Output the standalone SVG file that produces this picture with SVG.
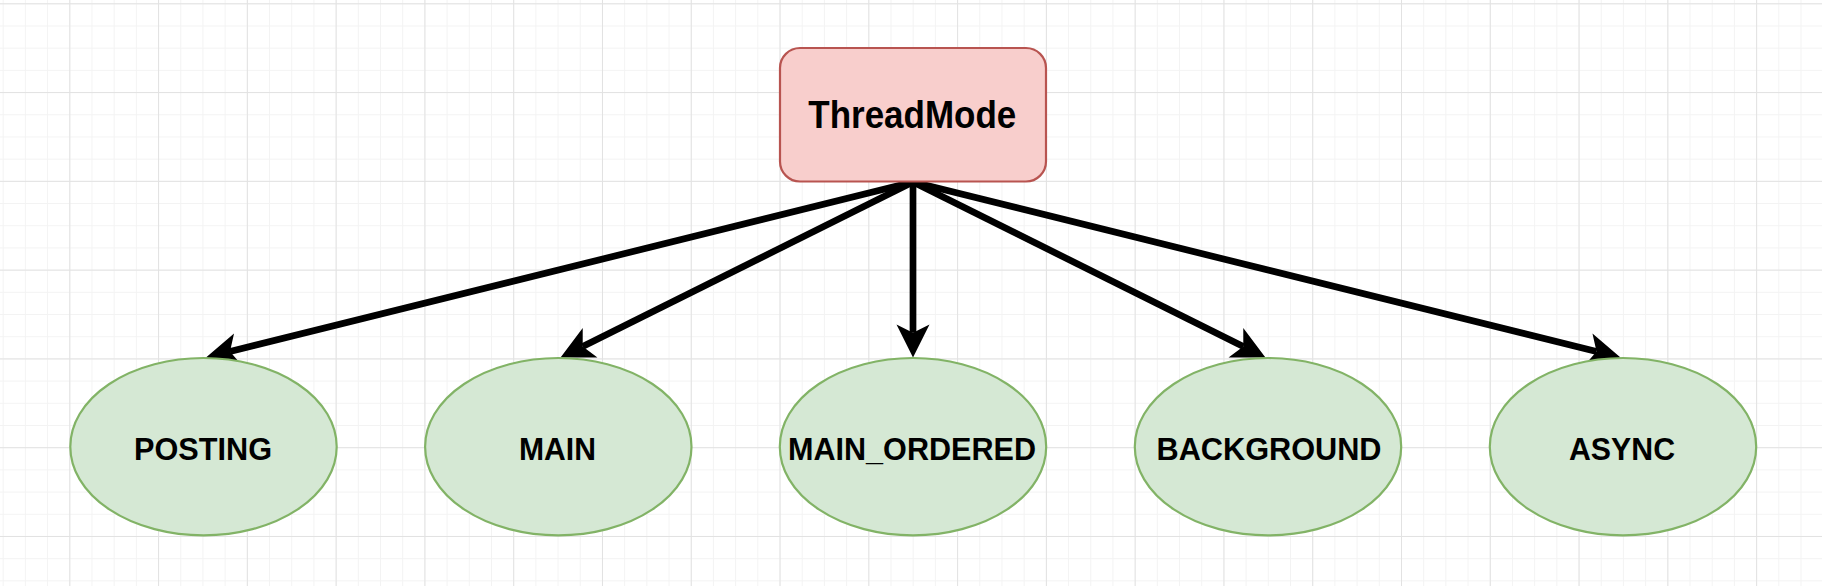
<svg xmlns="http://www.w3.org/2000/svg" width="1822" height="586" viewBox="0 0 1822 586">
  <style>
    .rectnode { fill: #f8cecc; stroke: #b85450; stroke-width: 2.2; }
    .ellnode { fill: #d5e8d4; stroke: #82b366; stroke-width: 2.2; }
    .lbl { font-family: "Liberation Sans", Arial, Helvetica, sans-serif; font-weight: bold; fill: #000000; text-anchor: middle; }
    .lbl-big { font-size: 38px; }
    .lbl-sm { font-size: 32px; }
    .edge { fill: none; stroke: #000000; stroke-width: 6.7; marker-end: url(#arrow); }
  </style>
  <defs>
    <pattern id="minorGrid" patternUnits="userSpaceOnUse" x="2.7" y="3.3" width="22.195" height="22.195">
      <path d="M0.5,0 V22.195 M0,0.5 H22.195" fill="none" stroke="#f3f3f3" stroke-width="1"/>
    </pattern>
    <pattern id="majorGrid" patternUnits="userSpaceOnUse" x="69.3" y="3.3" width="88.78" height="88.78">
      <path d="M0.5,0 V88.78 M0,0.5 H88.78" fill="none" stroke="#e2e2e2" stroke-width="1"/>
    </pattern>
    <marker id="arrow" markerUnits="userSpaceOnUse" orient="auto" viewBox="-10 -18 36 36" refX="0" refY="0" markerWidth="36" markerHeight="36" overflow="visible">
      <path d="M24.75,0 L-8.25,-16.5 L0,0 L-8.25,16.5 Z" fill="#000000"/>
    </marker>
  </defs>

  <rect x="0" y="0" width="1822" height="586" fill="#ffffff"/>
  <rect x="0" y="0" width="1822" height="586" fill="url(#minorGrid)"/>
  <rect x="0" y="0" width="1822" height="586" fill="url(#majorGrid)"/>

  <g id="connectors">
    <path class="edge" d="M913,182 L230.0,351.5"/>
    <path class="edge" d="M913,182 L582.7,346.5"/>
    <path class="edge" d="M913,182 L913,332.75"/>
    <path class="edge" d="M913,182 L1243.3,346.5"/>
    <path class="edge" d="M913,182 L1596.5,351.5"/>
  </g>

  <g id="node-threadmode">
    <rect class="rectnode" x="780" y="48" width="266" height="133.5" rx="20" ry="20"/>
    <text class="lbl lbl-big" x="912.3" y="127.7" textLength="208" lengthAdjust="spacingAndGlyphs">ThreadMode</text>
  </g>

  <g id="node-posting">
    <ellipse class="ellnode" cx="203.5" cy="446.7" rx="133.2" ry="88.7"/>
    <text class="lbl lbl-sm" x="203" y="460" textLength="138" lengthAdjust="spacingAndGlyphs">POSTING</text>
  </g>

  <g id="node-main">
    <ellipse class="ellnode" cx="558.3" cy="446.7" rx="133.2" ry="88.7"/>
    <text class="lbl lbl-sm" x="557.5" y="459.5" textLength="77" lengthAdjust="spacingAndGlyphs">MAIN</text>
  </g>

  <g id="node-main-ordered">
    <ellipse class="ellnode" cx="913" cy="446.7" rx="133.2" ry="88.7"/>
    <text class="lbl lbl-sm" x="912" y="459.5" textLength="248" lengthAdjust="spacingAndGlyphs">MAIN_ORDERED</text>
  </g>

  <g id="node-background">
    <ellipse class="ellnode" cx="1268" cy="446.7" rx="133.2" ry="88.7"/>
    <text class="lbl lbl-sm" x="1269" y="460" textLength="225" lengthAdjust="spacingAndGlyphs">BACKGROUND</text>
  </g>

  <g id="node-async">
    <ellipse class="ellnode" cx="1623" cy="446.7" rx="133.2" ry="88.7"/>
    <text class="lbl lbl-sm" x="1622" y="460" textLength="106" lengthAdjust="spacingAndGlyphs">ASYNC</text>
  </g>
</svg>
